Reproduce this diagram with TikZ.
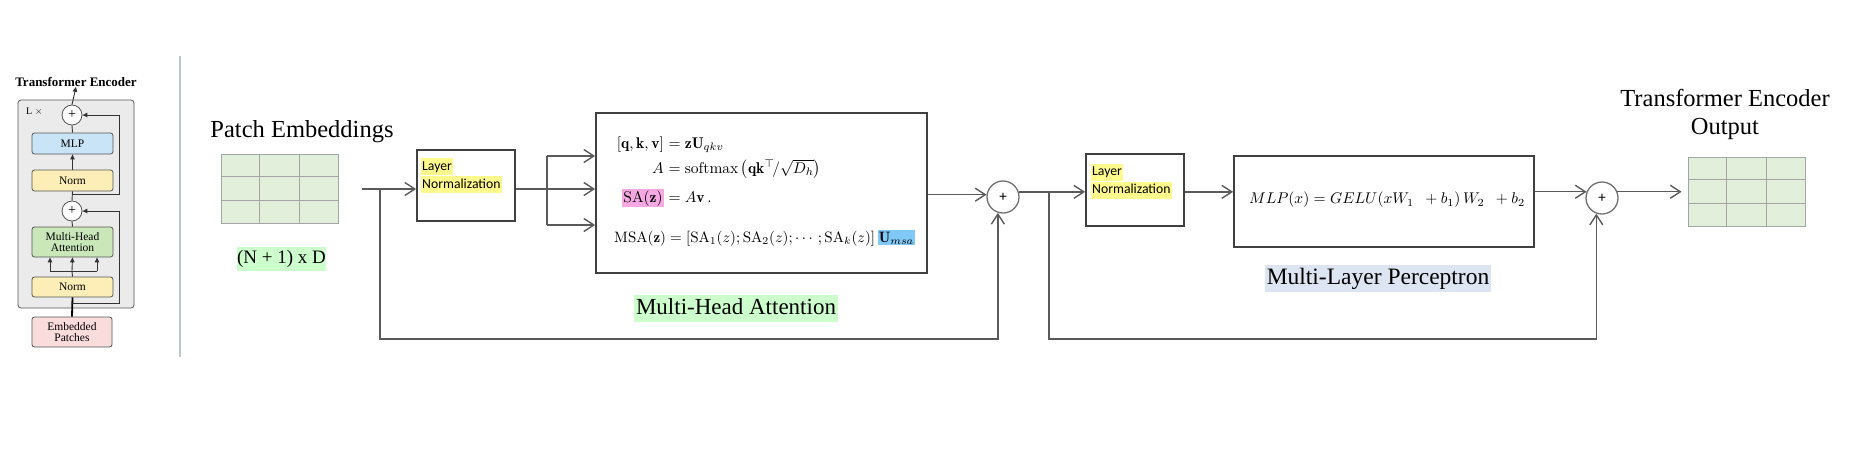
\RequirePackage{fix-cm}
\documentclass[tikz,border=0pt]{standalone}
\usepackage{amsmath}
\usepackage{graphicx}
\usepackage{fontspec}
\usetikzlibrary{arrows.meta,calc}
\newfontfamily\cam{Liberation Serif}
\newfontfamily\calib{Carlito}
\newcommand{\eqs}[1]{\scalebox{1.55}{#1}}
\definecolor{boxc}{HTML}{404040}
\definecolor{linec}{HTML}{5A5A5A}
\definecolor{circc}{HTML}{707070}
\definecolor{gridfill}{HTML}{E2EFDA}
\definecolor{gridline}{HTML}{A5A5A5}
\definecolor{hlyellow}{HTML}{FFFA8C}
\definecolor{hlgreen}{HTML}{CCFFCC}
\definecolor{hlpink}{HTML}{F5A8E2}
\definecolor{hlblue}{HTML}{80C8F5}
\definecolor{hlgray}{HTML}{DCE5F1}
\definecolor{lgrayfill}{HTML}{EBEBEB}
\definecolor{lborder}{HTML}{555555}
\definecolor{lblue}{HTML}{C8E4F6}
\definecolor{lyellow}{HTML}{FDEDB6}
\definecolor{lgreen}{HTML}{C9E7B9}
\definecolor{lpink}{HTML}{FADCDD}
\definecolor{divc}{HTML}{B9C9C9}
\tikzset{
  conn/.style={draw=linec, line width=1.4pt},
  arr/.style={conn, -{Straight Barb[length=10pt,width=13pt]}},
  mbox/.style={draw=boxc, line width=1.8pt, fill=white, inner sep=0pt},
  plusnode/.style={circle, draw=circc, line width=1.3pt, minimum size=32pt, inner sep=0pt, fill=white, font=\calib\fontsize{15}{15}\selectfont},
  gridbox/.style={draw=gridline, line width=0.9pt, fill=gridfill, inner sep=0pt, minimum width=117pt, minimum height=69pt},
  gline/.style={draw=gridline, line width=0.9pt},
  big/.style={font=\cam\fontsize{24.5}{28}\selectfont, inner sep=0pt},
  hl/.style={inner xsep=1.5pt, inner ysep=1pt, text height=11pt, text depth=4pt, anchor=west, font=\calib\fontsize{13.7}{15}\selectfont},
  lbox/.style={draw=lborder, line width=0.8pt, rounded corners=2.5pt, minimum width=81pt, minimum height=21pt, inner sep=0pt, align=center, font=\cam\fontsize{11.5}{12.5}\selectfont},
  lline/.style={draw=black!80, line width=0.9pt},
  ltip/.style={lline, -{Triangle[length=5pt,width=4.5pt]}},
  lplus/.style={circle, draw=lborder, line width=0.8pt, fill=white, minimum size=20pt, inner sep=0pt, font=\cam\fontsize{14}{14}\selectfont},
  eq/.style={inner sep=0pt}
}
\begin{document}
\begin{tikzpicture}[x=1pt,y=-1pt]
\fill[white] (0,0) rectangle (1855,448);
\useasboundingbox (0,0) rectangle (1855,448);

% ---------------- left panel ----------------
\node[draw=lborder, line width=0.8pt, fill=lgrayfill, rounded corners=3pt, minimum width=116pt, minimum height=208pt, inner sep=0pt] (lbg) at (76,204) {};
\node[font=\cam\bfseries\fontsize{13}{14}\selectfont, inner sep=0pt] (ltitle) at (76,82) {Transformer Encoder};
\node[anchor=west, inner sep=0pt, font=\cam\fontsize{10}{10}\selectfont] (lx) at (26,112) {L $\times$};
\node[lplus] (lp1) at (72,115) {+};
\node[lbox, fill=lblue] (lmlp) at (72.5,143.5) {MLP};
\node[lbox, fill=lyellow] (lnt) at (72.5,180.5) {Norm};
\node[lplus] (lp2) at (72,211) {+};
\node[lbox, fill=lgreen, minimum height=30pt] (lmha) at (72.5,242) {Multi-Head\\[-1pt]Attention};
\node[lbox, fill=lyellow, minimum height=20pt] (lnb) at (72.5,287) {Norm};
\node[lbox, fill=lpink, minimum width=80pt, minimum height=30pt] (lep) at (72,332) {Embedded\\[-1pt]Patches};

\draw[ltip] (lp1.north) -- (ltitle.south);
\draw[lline] (lmlp.north) -- (lp1.south);
\draw[ltip] (lnt.north) -- (lmlp.south);
\draw[lline] (lp2.north) -- (lnt.south);
\draw[lline] (lmha.north) -- (lp2.south);
\coordinate (la) at (72,271);
\coordinate (lal) at (50,271);
\coordinate (lar) at (97,271);
\draw[lline] (lnb.north) -- (la);
\draw[lline] (lal) -- (lar);
\draw[ltip] (la) -- (lmha.south);
\draw[ltip] (lal) -- (lal |- lmha.south);
\draw[ltip] (lar) -- (lar |- lmha.south);
\draw[draw=black, line width=1.8pt] (lep.north) -- (lnb.south);
\coordinate (lr1) at (72,303);
\coordinate (lr2) at (72,194);
\draw[ltip] (lr1) -- (119,303) -- (119,211) -- (lp2.east);
\draw[ltip] (lr2) -- (119,194) -- (119,115) -- (lp1.east);

% divider
\draw[draw=divc, line width=2pt] (180,56) -- (180,357);

% ---------------- main diagram ----------------
\node[big, anchor=base] (pe) at (302,137) {Patch Embeddings};
\node[gridbox] (g1) at (279.5,188.5) {};
\foreach \i in {1,2} {
  \draw[gline] ($(g1.north west)!\i/3!(g1.north east)$) -- ($(g1.south west)!\i/3!(g1.south east)$);
  \draw[gline] ($(g1.north west)!\i/3!(g1.south west)$) -- ($(g1.north east)!\i/3!(g1.south east)$);
}
\node[fill=hlgreen, minimum width=89pt, minimum height=24pt, inner sep=0pt, font=\cam\fontsize{19}{20}\selectfont] (nd) at (281.5,259) {(N + 1) x D};

\node[mbox, minimum width=98pt, minimum height=71pt] (ln1) at (466,185.5) {};
\node[hl, fill=hlyellow] (ln1a) at (420.5,166.5) {Layer\hspace{3pt}};
\node[hl, fill=hlyellow] (ln1b) at (420.5,184.5) {Normalization};

\node[mbox, minimum width=331pt, minimum height=160pt] (mha) at (761.5,193) {};
\node[eq, anchor=base east] (e1l) at (664,148) {\eqs{$[\mathbf{q},\mathbf{k},\mathbf{v}]$}};
\node[eq, anchor=base west] (e1r) at (664,148) {\eqs{${}=\mathbf{z}\mathbf{U}_{qkv}$}};
\node[eq, anchor=base east] (e2l) at (664,173) {\eqs{$A$}};
\node[eq, anchor=base west] (e2r) at (664,173) {\eqs{${}=\mathrm{softmax}\left(\mathbf{q}\mathbf{k}^{\top}\!/\sqrt{D_h}\right)$}};
\node[eq, anchor=base east] (e3l) at (664,202) {\eqs{\setlength{\fboxsep}{0.8pt}\colorbox{hlpink}{$\mathrm{SA}(\mathbf{z})$}}};
\node[eq, anchor=base west] (e3r) at (664,202) {\eqs{${}=A\mathbf{v}\,.$}};
\node[eq, anchor=base west] (e4) at (614,242) {\resizebox{301pt}{!}{$\mathrm{MSA}(\mathbf{z}) = [\mathrm{SA}_1(z);\mathrm{SA}_2(z);\cdots;\mathrm{SA}_k(z)]\,$\setlength{\fboxsep}{0.8pt}\colorbox{hlblue}{$\mathbf{U}_{msa}$}}};

\node[fill=hlgreen, inner xsep=2pt, inner ysep=2pt, text height=17pt, text depth=6pt, font=\cam\fontsize{23}{26}\selectfont] (mhal) at (736,308.5) {Multi-Head Attention};

\node[plusnode] (p1) at (1003,197) {+};

\node[mbox, minimum width=98pt, minimum height=72pt] (ln2) at (1135,190) {};
\node[hl, fill=hlyellow] (ln2a) at (1090.5,172) {Layer\hspace{3pt}};
\node[hl, fill=hlyellow] (ln2b) at (1090.5,190) {Normalization};

\node[mbox, minimum width=300pt, minimum height=91pt] (mlp) at (1384,201.5) {};
\node[inner sep=0pt] (mlpeq) at (1387,200) {\resizebox{276pt}{!}{$MLP(x) = GELU(xW_1\;\: + b_1)\,W_2\;\: + b_2$}};

\node[fill=hlgray, inner xsep=2pt, inner ysep=2pt, text height=17pt, text depth=6pt, font=\cam\fontsize{23.5}{26}\selectfont] (mlpl) at (1378,278.5) {Multi-Layer Perceptron};

\node[plusnode] (p2) at (1602,198) {+};

\node[gridbox] (g2) at (1746.5,191.5) {};
\foreach \i in {1,2} {
  \draw[gline] ($(g2.north west)!\i/3!(g2.north east)$) -- ($(g2.south west)!\i/3!(g2.south east)$);
  \draw[gline] ($(g2.north west)!\i/3!(g2.south west)$) -- ($(g2.north east)!\i/3!(g2.south east)$);
}
\node[big, align=center] (teo) at (1725,114) {Transformer Encoder\\Output};

% connectors
\coordinate (in) at (362,189);
\coordinate (b1) at (380,189);
\coordinate (bot) at (0,339);
\draw[arr] (in) -- (ln1.west |- in);
\coordinate (s) at (547,189);
\coordinate (s1) at (547,156);
\coordinate (s3) at (547,225);
\draw[conn] (ln1.east |- in) -- (s);
\draw[conn] (s1) -- (s3);
\draw[arr] (s1) -- (mha.west |- s1);
\draw[arr] (s) -- (mha.west |- s);
\draw[arr] (s3) -- (mha.west |- s3);
\draw[arr] (mha.east |- p1.172) -- (p1.172);
\draw[arr] (b1) -- (b1 |- bot) -- (p1.252 |- bot) -- (p1.252);
\draw[arr] (p1.18) -- (ln2.west |- p1.18);
\coordinate (b2) at (1049,192);
\draw[arr] (ln2.east |- p1.18) -- (mlp.west |- p1.18);
\draw[arr] (b2) -- (b2 |- bot) -- (p2.250 |- bot) -- (p2.250);
\draw[arr] (mlp.east |- p2.158) -- (p2.158);
\draw[arr] (p2.22) -- ([xshift=-6pt]g2.west |- p2.22);
\end{tikzpicture}
\end{document}
